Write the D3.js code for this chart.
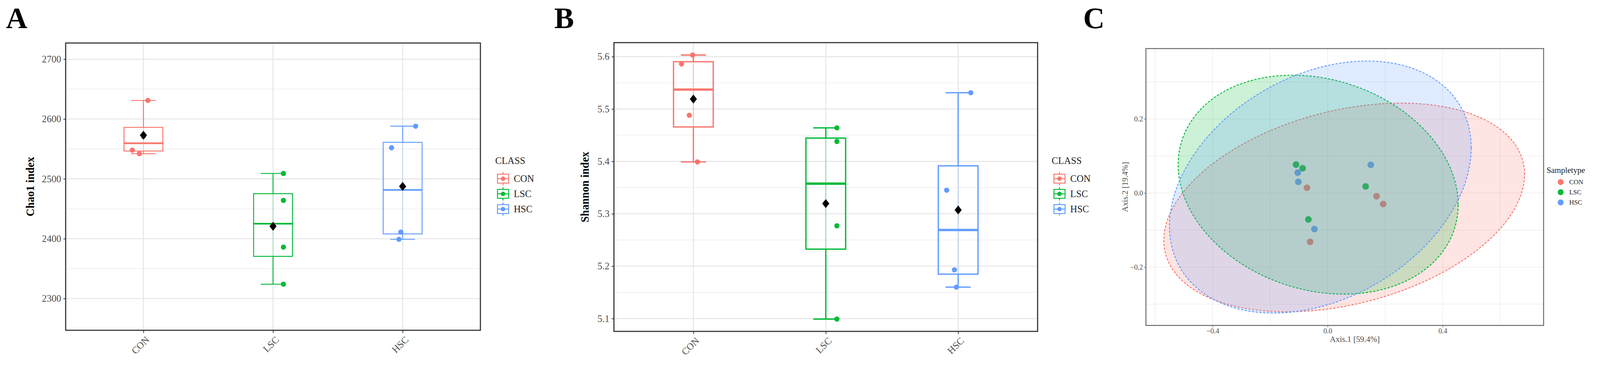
<!DOCTYPE html>
<html><head><meta charset="utf-8">
<script src="https://cdn.jsdelivr.net/npm/d3@7"></script>
<style>html,body{margin:0;padding:0;background:#fff;overflow:hidden}svg{display:block;width:100vw;height:auto}text{font-family:"Liberation Serif","Times New Roman",serif}</style>
</head><body><svg id="fig" viewBox="0 0 4313 971" preserveAspectRatio="xMinYMin meet"></svg>
<script>
// groups and colours
var classes = ["CON", "LSC", "HSC"];
var colors = {CON: "#F8766D", LSC: "#00BA38", HSC: "#619CFF"};

// panel A: Chao1 per sample
var chao1 = {
  CON: [2631, 2571, 2548, 2542],
  LSC: [2509, 2464, 2386, 2324],
  HSC: [2588, 2552, 2411, 2399]
};
var chao1Jitter = {CON: [12, 0, -30, -11], LSC: [28, 28, 28, 28], HSC: [35, -30, -5, -10]};
var chao1Ticks = [2300, 2400, 2500, 2600, 2700];

// panel B: Shannon per sample
var shannon = {
  CON: [5.603, 5.586, 5.488, 5.399],
  LSC: [5.464, 5.438, 5.277, 5.099],
  HSC: [5.531, 5.345, 5.193, 5.160]
};
var shannonJitter = {CON: [-2, -32, -11, 11], LSC: [30, 30, 30, 30], HSC: [34, -31, -10, -5]};
var shannonTicks = [5.1, 5.2, 5.3, 5.4, 5.5, 5.6];

// panel C: PCoA coordinates
var pcoa = {
  CON: [[-0.072, 0.0143], [0.170, -0.0086], [0.193, -0.0297], [-0.061, -0.1318]],
  LSC: [[-0.110, 0.0768], [-0.087, 0.0669], [0.132, 0.018], [-0.067, -0.0712]],
  HSC: [[0.150, 0.0762], [-0.104, 0.0551], [-0.102, 0.0304], [-0.046, -0.0972]]
};
var pcoaXTicks = [-0.4, 0.0, 0.4];
var pcoaYTicks = [-0.2, 0.0, 0.2];

var svg = d3.select("#fig");

function boxPanel(o) {
  var g = svg.append("g");
  var x = d3.scalePoint().domain(classes).range([o.x0, o.x1]).padding(0.6);
  var y = d3.scaleLinear().domain(o.domain).range([o.y1, o.y0]);
  var step = x.step();
  // grid
  var minor = d3.range(o.ticks.length - 1).map(function (i) { return (o.ticks[i] + o.ticks[i + 1]) / 2; });
  minor.push(o.ticks[0] - (o.ticks[1] - o.ticks[0]) / 2);
  g.selectAll(".mn").data(minor.filter(function (v) { return v > o.domain[0] && v < o.domain[1]; }))
    .enter().append("line").attr("x1", o.x0).attr("x2", o.x1)
    .attr("y1", y).attr("y2", y).attr("stroke", "#f0f0f0").attr("stroke-width", 2);
  g.selectAll(".mj").data(o.ticks).enter().append("line").attr("x1", o.x0).attr("x2", o.x1)
    .attr("y1", y).attr("y2", y).attr("stroke", "#e8e8e8").attr("stroke-width", 3);
  g.selectAll(".vg").data(classes).enter().append("line").attr("x1", x).attr("x2", x)
    .attr("y1", o.y0).attr("y2", o.y1).attr("stroke", "#e8e8e8").attr("stroke-width", 3);

  var bw = step * 0.3, cw = step * 0.19;
  classes.forEach(function (c) {
    var v = o.data[c].slice().sort(d3.ascending);
    var q1 = d3.quantile(v, 0.25), md = d3.quantile(v, 0.5), q3 = d3.quantile(v, 0.75);
    var lo = v[0], hi = v[v.length - 1], cx = x(c), col = colors[c];
    var sw = o.sw;
    g.append("line").attr("x1", cx).attr("x2", cx).attr("y1", y(hi)).attr("y2", y(q3)).attr("stroke", col).attr("stroke-width", sw);
    g.append("line").attr("x1", cx).attr("x2", cx).attr("y1", y(q1)).attr("y2", y(lo)).attr("stroke", col).attr("stroke-width", sw);
    [hi, lo].forEach(function (w) {
      g.append("line").attr("x1", cx - cw / 2).attr("x2", cx + cw / 2).attr("y1", y(w)).attr("y2", y(w)).attr("stroke", col).attr("stroke-width", sw);
    });
    g.append("rect").attr("x", cx - bw / 2).attr("width", bw).attr("y", y(q3)).attr("height", y(q1) - y(q3))
      .attr("fill", "none").attr("stroke", col).attr("stroke-width", sw);
    g.append("line").attr("x1", cx - bw / 2).attr("x2", cx + bw / 2).attr("y1", y(md)).attr("y2", y(md)).attr("stroke", col).attr("stroke-width", sw * 1.8);
    g.append("line").attr("x1", cx).attr("x2", cx).attr("y1", y(q3)).attr("y2", y(q1)).attr("stroke", col).attr("stroke-opacity", 0.25).attr("stroke-width", sw);
    g.selectAll(".p" + c).data(o.data[c]).enter().append("circle")
      .attr("cx", function (d, i) { return cx + o.jitter[c][i]; }).attr("cy", y).attr("r", 7).attr("fill", col);
    var m = d3.mean(v), s = 12;
    g.append("path").attr("d", "M" + cx + "," + (y(m) - s) + "L" + (cx + s * 0.8) + "," + y(m) + "L" + cx + "," + (y(m) + s) + "L" + (cx - s * 0.8) + "," + y(m) + "Z").attr("fill", "#000");
  });
  g.append("rect").attr("x", o.x0).attr("y", o.y0).attr("width", o.x1 - o.x0).attr("height", o.y1 - o.y0)
    .attr("fill", "none").attr("stroke", "#333").attr("stroke-width", 3);
  // axes
  var ya = g.append("g").attr("transform", "translate(" + o.x0 + ",0)")
    .call(d3.axisLeft(y).tickValues(o.ticks).tickSize(6).tickPadding(6).tickFormat(o.fmt));
  var xa = g.append("g").attr("transform", "translate(0," + o.y1 + ")")
    .call(d3.axisBottom(x).tickSize(7).tickPadding(4));
  [ya, xa].forEach(function (a) {
    a.select(".domain").remove();
    a.selectAll("line").attr("stroke", "#333").attr("stroke-width", 2);
    a.selectAll("text").attr("fill", "#4d4d4d").style("font-size", "26px").style("font-family", "Liberation Serif");
  });
  xa.selectAll("text").attr("text-anchor", "end").attr("dy", "0.5em")
    .attr("transform", "translate(0,10) rotate(-45)");
  g.append("text").attr("transform", "translate(" + o.titleX + "," + (o.y0 + o.y1) / 2 + ") rotate(-90)")
    .attr("text-anchor", "middle").style("font-size", "30px").style("font-weight", "bold").text(o.title);
  g.append("text").attr("x", o.letterX).attr("y", 76).style("font-size", "80px").style("font-weight", "bold").text(o.letter);
  // legend
  var lg = g.append("g").attr("transform", "translate(" + o.legX + ",0)");
  lg.append("text").attr("x", 0).attr("y", 442).style("font-size", "26px").attr("fill", "#222").text("CLASS");
  classes.forEach(function (c, i) {
    var cy = 482 + i * 41, col = colors[c];
    lg.append("line").attr("x1", 21).attr("x2", 21).attr("y1", cy - 18).attr("y2", cy + 18).attr("stroke", col).attr("stroke-width", 2.5);
    lg.append("rect").attr("x", 6).attr("y", cy - 12).attr("width", 30).attr("height", 24).attr("fill", "#fff").attr("stroke", col).attr("stroke-width", 2.5);
    lg.append("line").attr("x1", 6).attr("x2", 36).attr("y1", cy).attr("y2", cy).attr("stroke", col).attr("stroke-width", 2.5);
    lg.append("circle").attr("cx", 21).attr("cy", cy).attr("r", 6).attr("fill", col);
    lg.append("text").attr("x", 50).attr("y", cy + 9).style("font-size", "26px").attr("fill", "#222").text(c);
  });
}

boxPanel({x0: 177, x1: 1295, y0: 116, y1: 891, domain: [2247, 2727], ticks: chao1Ticks, data: chao1,
  jitter: chao1Jitter, fmt: d3.format("d"), sw: 2.5, title: "Chao1 index", titleX: 92, letter: "A", letterX: 16, legX: 1335});
boxPanel({x0: 1655, x1: 2797, y0: 115, y1: 894, domain: [5.0755, 5.6267], ticks: shannonTicks, data: shannon,
  jitter: shannonJitter, fmt: d3.format(".1f"), sw: 3.5, title: "Shannon index", titleX: 1587, letter: "B", letterX: 1494, legX: 2835});

// panel C
(function () {
  var g = svg.append("g");
  var x0 = 3089, x1 = 4161, y0 = 131, y1 = 878;
  var x = d3.scaleLinear().domain([-0.632, 0.751]).range([x0, x1]);
  var y = d3.scaleLinear().domain([-0.3575, 0.390]).range([y1, y0]);
  var gx = d3.range(-0.6, 0.75, 0.2), gy = d3.range(-0.3, 0.39, 0.1);
  g.selectAll(".gx").data(gx).enter().append("line").attr("x1", x).attr("x2", x).attr("y1", y0).attr("y2", y1).attr("stroke", "#ececec").attr("stroke-width", 1.5);
  g.selectAll(".gy").data(gy).enter().append("line").attr("y1", y).attr("y2", y).attr("x1", x0).attr("x2", x1).attr("stroke", "#ececec").attr("stroke-width", 1.5);

  var pts = g.append("g");
  classes.forEach(function (c) {
    pts.selectAll(".q" + c).data(pcoa[c]).enter().append("circle")
      .attr("cx", function (d) { return x(d[0]); }).attr("cy", function (d) { return y(d[1]); })
      .attr("r", 9).attr("fill", colors[c]);
  });
  // normal-theory 95% ellipses, as stat_ellipse(type = "norm")
  var radius = Math.sqrt(2 * 9.552);
  classes.forEach(function (c) {
    var p = pcoa[c], n = p.length;
    var mx = d3.mean(p, function (d) { return d[0]; }), my = d3.mean(p, function (d) { return d[1]; });
    var sxx = d3.sum(p, function (d) { return (d[0] - mx) * (d[0] - mx); }) / (n - 1);
    var syy = d3.sum(p, function (d) { return (d[1] - my) * (d[1] - my); }) / (n - 1);
    var sxy = d3.sum(p, function (d) { return (d[0] - mx) * (d[1] - my); }) / (n - 1);
    var a = Math.sqrt(sxx), b = sxy / a, d2 = Math.sqrt(syy - b * b);
    var line = d3.range(0, 2 * Math.PI + 0.01, Math.PI / 60).map(function (t) {
      var u = Math.cos(t), v = Math.sin(t);
      return [x(mx + radius * (a * u)), y(my + radius * (b * u + d2 * v))];
    });
    g.append("path").attr("d", d3.line()(line) + "Z").attr("fill", colors[c]).attr("fill-opacity", 0.2)
      .attr("stroke", colors[c]).attr("stroke-width", 2.5).attr("stroke-dasharray", "6,4");
  });
  g.append("rect").attr("x", x0).attr("y", y0).attr("width", x1 - x0).attr("height", y1 - y0)
    .attr("fill", "none").attr("stroke", "#666").attr("stroke-width", 2.5);
  var xa = g.append("g").attr("transform", "translate(0," + y1 + ")").call(d3.axisBottom(x).tickValues(pcoaXTicks).tickSize(5).tickFormat(d3.format(".1f")));
  var ya = g.append("g").attr("transform", "translate(" + x0 + ",0)").call(d3.axisLeft(y).tickValues(pcoaYTicks).tickSize(5).tickFormat(d3.format(".1f")));
  [xa, ya].forEach(function (ax) {
    ax.select(".domain").remove();
    ax.selectAll("line").attr("stroke", "#666").attr("stroke-width", 1.5);
    ax.selectAll("text").attr("fill", "#4d4d4d").style("font-size", "19px").style("font-family", "Liberation Serif");
  });
  g.append("text").attr("x", 3652).attr("y", 922).attr("text-anchor", "middle").attr("fill", "#4d4d4d").style("font-size", "22px").text("Axis.1   [59.4%]");
  g.append("text").attr("transform", "translate(3040," + (y0 + y1) / 2 + ") rotate(-90)").attr("text-anchor", "middle").attr("fill", "#4d4d4d").style("font-size", "22px").text("Axis.2   [19.4%]");
  g.append("text").attr("x", 2920).attr("y", 76).style("font-size", "80px").style("font-weight", "bold").text("C");
  g.append("text").attr("x", 4169).attr("y", 466).style("font-size", "22px").attr("fill", "#222").text("Sampletype");
  classes.forEach(function (c, i) {
    var cy = 491 + i * 27.5;
    g.append("circle").attr("cx", 4207).attr("cy", cy).attr("r", 8).attr("fill", colors[c]);
    g.append("text").attr("x", 4230).attr("y", cy + 6).style("font-size", "18px").attr("fill", "#222").text(c);
  });
})();
</script></body></html>
